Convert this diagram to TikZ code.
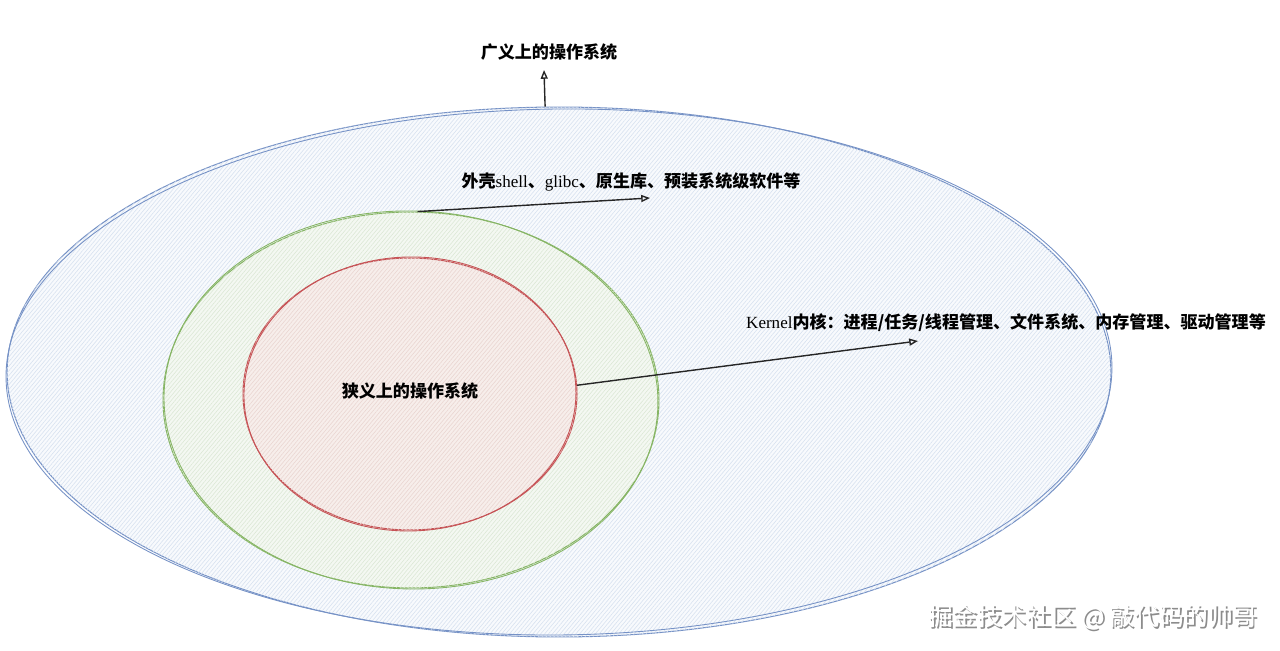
\documentclass[tikz,border=0pt]{standalone}
\usepackage{fontspec}
\setmainfont{Liberation Serif}
\newfontfamily\cjk{Noto Sans CJK SC}
\newfontfamily\latinfont{Liberation Serif}
\usetikzlibrary{arrows.meta, shapes.geometric, patterns.meta, positioning}

\definecolor{outerline}{HTML}{7692C6}
\definecolor{outerfill}{HTML}{F8FAFD}
\definecolor{outerhatch}{HTML}{D8E2F0}
\definecolor{shellline}{HTML}{86B564}
\definecolor{shellfill}{HTML}{F4F8F2}
\definecolor{shellhatch}{HTML}{DCE8D6}
\definecolor{kernline}{HTML}{C65356}
\definecolor{kernfill}{HTML}{F7EEEB}
\definecolor{kernhatch}{HTML}{EAD6D2}

\newcommand\lat[1]{{\latinfont\mdseries #1}}

\begin{document}
\begin{tikzpicture}[x=0.02cm, y=-0.02cm,
		every node/.style={font=\cjk\bfseries\fontsize{9.7}{11.5}\selectfont, inner sep=0pt},
		ring/.style={ellipse, inner sep=0pt, line width=0.6pt},
		hatch/.style={pattern={Lines[angle=50,distance=1.7pt,line width=0.35pt]}, pattern color=#1},
		arr/.style={-{Triangle[open,length=5pt,width=4pt]}, line width=0.8pt, black!85},
		wmark/.style={font=\cjk\fontsize{14}{17}\selectfont}]
		
		\useasboundingbox (0,0) rectangle (1280,651);
		
		% the three rings
		\node[ring, draw=outerline, fill=outerfill, postaction={hatch=outerhatch},
		minimum width=22.08cm, minimum height=10.6cm] (outer) at (559,372) {};
		\draw[outerline, line width=0.5pt, rotate around={0.6:(outer.center)}]
		(outer.center) ellipse [x radius=553, y radius=263];
		
		\node[ring, draw=shellline, fill=shellfill, postaction={hatch=shellhatch},
		minimum width=9.92cm, minimum height=7.52cm] (shellring) at (411,400) {};
		\draw[shellline, line width=0.5pt, rotate around={-1.2:(shellring.center)}]
		(shellring.center) ellipse [x radius=247, y radius=189];
		
		\node[ring, draw=kernline, fill=kernfill, postaction={hatch=kernhatch},
		minimum width=6.68cm, minimum height=5.44cm] (kernring) at (410,394) {};
		\draw[kernline, line width=0.5pt, rotate around={1.5:(kernring.center)}]
		(kernring.center) ellipse [x radius=166, y radius=137];
		
		% labels
		\node (wide) at (549,52) {广义上的操作系统};
		\node (shell) at (631,182) {外壳\lat{shell}、\lat{glibc}、原生库、预装系统级软件等};
		\node (kernel) at (1006,323) {\lat{Kernel}内核：进程/任务/线程管理、文件系统、内存管理、驱动管理等};
		\node (narrow) at (410,391) {狭义上的操作系统};
		
		\coordinate (wideTip) at (544,70);
		\coordinate (shellTip) at (650,198);
		\coordinate (kernTip) at (918,341);
		
		\draw[arr] (outer.93) -- (wideTip);
		\draw[arr] (shellring.88) -- (shellTip);
		\draw[arr] (kernring.3) -- (kernTip);
		
		% watermark
		\node[wmark, text=black!45] (markShadow) at (1094.8,618.8) {掘金技术社区 @ 敲代码的帅哥};
		\node[wmark, text=white] (juejin) at (1093,617) {掘金技术社区 @ 敲代码的帅哥};
		
\end{tikzpicture}
\end{document}
